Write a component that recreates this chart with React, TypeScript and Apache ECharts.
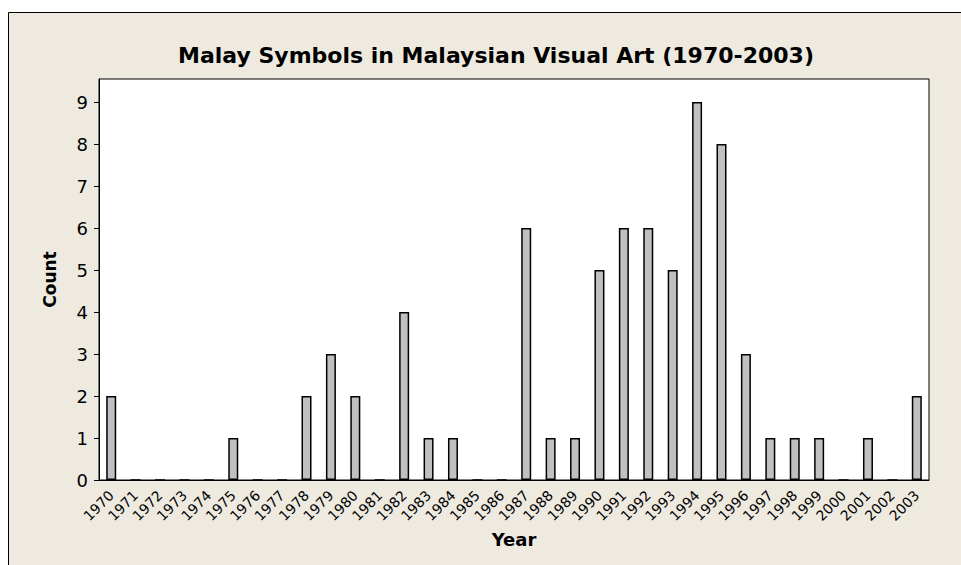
import React, { useEffect, useRef } from "react";
import * as echarts from "echarts";

const years = [
  "1970", "1971", "1972", "1973", "1974", "1975", "1976", "1977", "1978", "1979",
  "1980", "1981", "1982", "1983", "1984", "1985", "1986", "1987", "1988", "1989",
  "1990", "1991", "1992", "1993", "1994", "1995", "1996", "1997", "1998", "1999",
  "2000", "2001", "2002", "2003",
];
const counts = [
  2, 0, 0, 0, 0, 1, 0, 0, 2, 3,
  2, 0, 4, 1, 1, 0, 0, 6, 1, 1,
  5, 6, 6, 5, 9, 8, 3, 1, 1, 1,
  0, 1, 0, 2,
];
const yTicks = [0, 1, 2, 3, 4, 5, 6, 7, 8, 9];
const titleText = "Malay Symbols in Malaysian Visual Art (1970-2003)";
const xName = "Year";
const yName = "Count";

const FONT = "DejaVu Sans";

export default function App() {
  const ref = useRef<HTMLDivElement>(null);
  useEffect(() => {
    document.body.style.margin = "0";
    if (!ref.current) return;
    const chart = echarts.init(ref.current, undefined, { renderer: "svg" });
    chart.setOption({
      animation: false,
      backgroundColor: "#ffffff",
      graphic: [
        {
          type: "rect",
          z: -10,
          silent: true,
          shape: { x: 8.5, y: 12.5, width: 970, height: 570 },
          style: { fill: "#EEEAE0", stroke: "#000000", lineWidth: 1 },
        },
      ],
      title: {
        text: titleText,
        left: 491,
        textAlign: "center",
        top: 39,
        textStyle: { fontFamily: FONT, fontWeight: "bold", fontSize: 22, color: "#000" },
      },
      grid: {
        left: 99,
        top: 79,
        right: 32,
        bottom: 85,
        show: true,
        backgroundColor: "#ffffff",
        borderColor: "#000000",
        borderWidth: 1,
        containLabel: false,
      },
      xAxis: {
        type: "category",
        data: years,
        boundaryGap: true,
        name: xName,
        nameLocation: "middle",
        nameGap: 49,
        nameTextStyle: { fontFamily: FONT, fontWeight: "bold", fontSize: 18, color: "#000" },
        axisLine: { lineStyle: { color: "#000", width: 1 } },
        axisTick: { alignWithLabel: true, length: 5, lineStyle: { color: "#000" } },
        axisLabel: {
          interval: 0,
          rotate: 45,
          fontFamily: FONT,
          fontSize: 14,
          color: "#000",
          margin: 13,
        },
        splitLine: { show: false },
      },
      yAxis: {
        type: "value",
        min: 0,
        max: 9.55,
        interval: 1,
        name: yName,
        nameLocation: "middle",
        nameGap: 41,
        nameTextStyle: { fontFamily: FONT, fontWeight: "bold", fontSize: 17, color: "#000" },
        axisLine: { show: true, lineStyle: { color: "#000", width: 1 } },
        axisTick: { show: true, length: 5, lineStyle: { color: "#000" }, customValues: yTicks },
        axisLabel: {
          fontFamily: FONT,
          fontSize: 18,
          color: "#000",
          margin: 11,
          customValues: yTicks,
        },
        splitLine: { show: false },
      },
      series: [
        {
          type: "bar",
          data: counts,
          barWidth: 10,
          itemStyle: { color: "#C0C0C0", borderColor: "#000000", borderWidth: 1.5 },
        },
      ],
    });
    return () => chart.dispose();
  }, []);
  return <div ref={ref} style={{ width: 961, height: 565 }} />;
}
